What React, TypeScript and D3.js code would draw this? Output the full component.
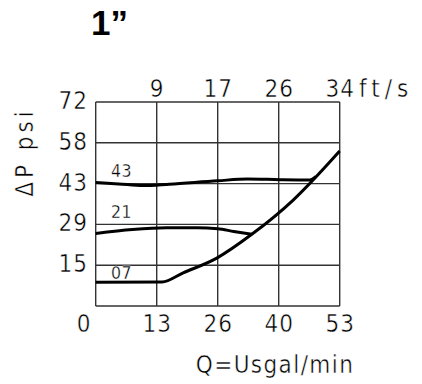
import React from "react";
import * as d3 from "d3";

const title = "1\u201D";
const yTickLabels = ["0", "15", "29", "43", "58", "72"];
const xTickLabels = ["0", "13", "26", "40", "53"];
const topTickLabels = ["", "9", "17", "26", "34"];
const topUnit = "ft/s";
const yTitle = "\u0394P psi";
const xTitle = "Q=Usgal/min";

const curve43Q = [0, 5, 10.3, 16, 26.5, 33, 40, 46.5, 47.8];
const curve43P = [43.6, 43.1, 42.5, 43.0, 44.2, 44.8, 44.6, 44.5, 45.7];
const curve21Q = [0, 8, 15.4, 22, 26.5, 30, 33.9];
const curve21P = [25.6, 27.0, 27.6, 27.6, 27.3, 26.3, 25.3];
const curve07Q = [0, 14.4, 19, 26.3, 33.9, 42.9, 53];
const curve07P = [8.4, 8.5, 11.7, 16.9, 25.3, 37.4, 54.7];
const curveLabels = ["43", "21", "07"];
const curveLabelQ = [3.3, 3.3, 3.3];
const curveLabelP = [45.5, 31, 9.6];

const W = 422;
const H = 384;
const left = 95.7;
const right = 339.7;
const top = 102;
const bottom = 306;
const fontISO = "'DejaVu Sans Condensed', 'DejaVu Sans', sans-serif";
const thin = { stroke: "#fff", strokeWidth: 0.45 } as const;

export default function App() {
  const x = d3.scaleLinear().domain([0, 53]).range([left, right]);
  const y = d3.scaleLinear().domain([0, 72]).range([bottom, top]);
  const xTickVals = xTickLabels.map((_, i) => (i * 53) / 4);
  const yTickVals = yTickLabels.map((_, i) => (i * 72) / 5);
  const line = d3
    .line<[number, number]>()
    .x((d) => x(d[0]))
    .y((d) => y(d[1]))
    .curve(d3.curveMonotoneX);
  const curves = [
    curve43Q.map((q, i) => [q, curve43P[i]] as [number, number]),
    curve21Q.map((q, i) => [q, curve21P[i]] as [number, number]),
    curve07Q.map((q, i) => [q, curve07P[i]] as [number, number]),
  ];
  return (
    <svg width={W} height={H} style={{ position: "absolute", left: 0, top: 0 }}>
      <rect width={W} height={H} fill="#fff" />
      <text x={91} y={35} fontFamily="'Liberation Sans', Arial, sans-serif" fontWeight="bold" fontSize={35} fill="#000">
        {title}
      </text>
      {/* grid */}
      {yTickVals.map((v, i) => (
        <line key={"gy" + i} x1={left} x2={right} y1={y(v)} y2={y(v)} stroke="#333" strokeWidth={1.4} />
      ))}
      {xTickVals.map((v, i) => (
        <line key={"gx" + i} x1={x(v)} x2={x(v)} y1={top} y2={bottom} stroke="#333" strokeWidth={1.4} />
      ))}
      {/* curves */}
      {curves.map((c, i) => (
        <path key={"c" + i} d={line(c) || ""} fill="none" stroke="#000" strokeWidth={3} strokeLinejoin="round" />
      ))}
      {curveLabels.map((l, i) => (
        <text key={"cl" + i} x={x(curveLabelQ[i])} y={y(curveLabelP[i])} fontFamily={fontISO} fontSize={17.5} fill="#000" letterSpacing={0.5} stroke="#fff" strokeWidth={0.3}>
          {l}
        </text>
      ))}
      {/* y tick labels */}
      {yTickVals.map((v, i) =>
        i === 0 ? null : (
          <text key={"yl" + i} x={88} y={y(v) + 7} textAnchor="end" fontFamily={fontISO} fontSize={24} fill="#000" letterSpacing={1} {...thin}>
            {yTickLabels[i]}
          </text>
        )
      )}
      {/* x tick labels */}
      {xTickVals.map((v, i) => (
        <text key={"xl" + i} x={i === 0 ? x(v) - 11.5 : x(v) + 0.5} y={332} textAnchor="middle" fontFamily={fontISO} fontSize={24} fill="#000" letterSpacing={1} {...thin}>
          {xTickLabels[i]}
        </text>
      ))}
      {/* top labels */}
      {xTickVals.map((v, i) =>
        topTickLabels[i] ? (
          <text key={"tl" + i} x={x(v) + 0.5} y={97} textAnchor="middle" fontFamily={fontISO} fontSize={24} fill="#000" letterSpacing={1} {...thin}>
            {topTickLabels[i]}
          </text>
        ) : null
      )}
      <text x={359} y={97} fontFamily={fontISO} fontSize={24} fill="#000" letterSpacing={5} {...thin}>
        {topUnit}
      </text>
      <text
        transform={`translate(33,152) rotate(-90)`}
        textAnchor="middle"
        fontFamily={fontISO}
        fontSize={24}
        fill="#000"
        letterSpacing={4}
        {...thin}
      >
        {yTitle}
      </text>
      <text x={275} y={373} textAnchor="middle" fontFamily={fontISO} fontSize={24} fill="#000" letterSpacing={1.4} {...thin}>
        {xTitle}
      </text>
    </svg>
  );
}
